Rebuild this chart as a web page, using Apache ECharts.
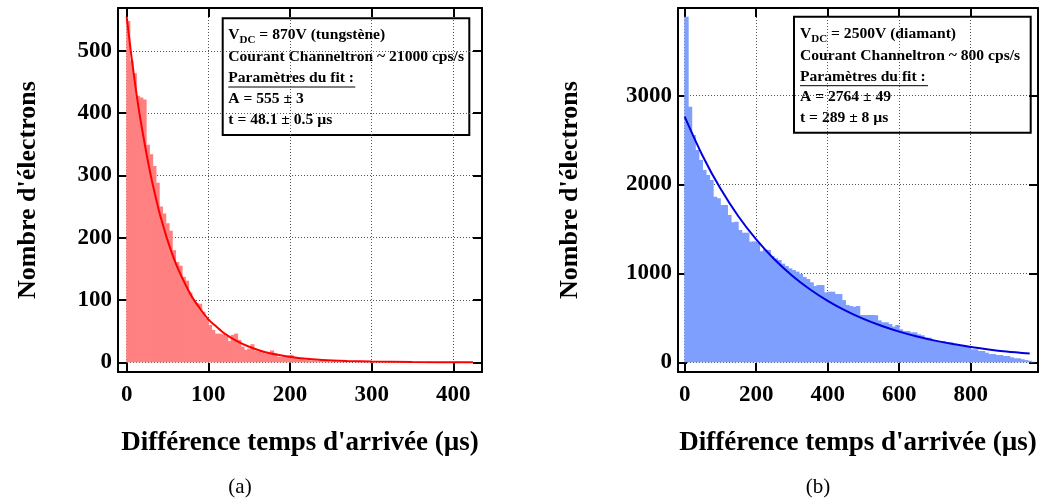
<!DOCTYPE html>
<html><head><meta charset="utf-8">
<script src="https://cdn.jsdelivr.net/npm/echarts@6/dist/echarts.min.js"></script>
<style>html,body{margin:0;padding:0;background:#fff}#c{width:1042px;height:499px}</style>
</head><body><div id="c"></div>
<script>
// ---------- data ----------
const binWidthA = 4;   // µs
const countsA = [
  548,484,464,428,425,422,349,334,315,288,
  250,239,223,211,180,161,155,137,131,112,
  100,95,94,81,70,60,52,46,46,45,
  42,34,44,46,36,25,20,22,29,19,
  17,15,14,15,19,14,9,9,8,11,
  12,6,5,5,4,4,3,3,2,3,
  2,2,1,2,1,1,2,1,1,0,
  1,1,0,1,0,1,0,0,1,0,
  0,1,0,0,0,1,0,0,0,1,
  0,0,1,0,0,0,0,0,0,0,
  0,1,0,0,0,0
];
const binWidthB = 10;  // µs
const countsB = [
  3888,2875,2557,2388,2276,2163,2107,2050,1863,1845,
  1770,1770,1657,1575,1582,1488,1458,1458,1357,1360,
  1345,1250,1270,1263,1196,1170,1151,1110,1083,1057,
  1038,1020,993,960,937,900,858,869,869,787,
  794,794,768,768,700,645,633,625,633,532,
  532,532,532,530,472,450,450,431,401,420,
  371,352,352,337,337,315,304,277,277,240,
  240,240,240,225,225,195,195,183,183,183,
  146,146,127,127,108,93,93,82,82,71,
  71,56,45,45,34,25,18,7
];
const fitA = [[0,555],[5,500],[10,450],[15,405],[20,366],[25,330],[30,297],[35,268],[40,241],[45,218],[50,196],[60,159],[70,130],[80,105],[90,86],[100,69],[110,57],[120,46],[135,34],[150,25],[170,16],[190,11],[210,7],[240,3.8],[270,2.1],[300,1.1],[350,0.4],[424,0.1]];
const fitB = [[0,2764],[50,2324],[100,1954],[150,1643],[200,1382],[250,1162],[300,977],[350,822],[400,691],[450,581],[500,488],[550,411],[600,345],[650,290],[700,244],[750,205],[800,173],[850,145],[900,122],[965,99]];
const xTicksA = [0,100,200,300,400];
const yTicksA = [0,100,200,300,400,500];
const xTicksB = [0,200,400,600,800];
const yTicksB = [0,1000,2000,3000];
const xTitle = "Différence temps d'arrivée (µs)";
const yTitle = "Nombre d'électrons";
const infoA = ["870V (tungstène)", "Courant Channeltron ~ 21000 cps/s", "Paramètres du fit :", "A = 555 ± 3", "t = 48.1 ± 0.5 µs"];
const infoB = ["2500V (diamant)", "Courant Channeltron ~ 800 cps/s", "Paramètres du fit :", "A = 2764 ± 49", "t = 289 ± 8 µs"];
const captions = ["(a)", "(b)"];

// ---------- chart ----------
const FF = "'Liberation Serif', 'DejaVu Serif', serif";
const chart = echarts.init(document.getElementById('c'), null, {renderer: 'canvas'});

function xAx(gi, min, max, ticks, pos, main) {
  return {
    type: 'value', gridIndex: gi, position: pos, min: min, max: max,
    name: main ? xTitle : '', nameLocation: 'middle', nameGap: 58,
    nameTextStyle: {fontFamily: FF, fontWeight: 'bold', fontSize: 27, color: '#000'},
    axisLine: {show: true, onZero: false, lineStyle: {color: '#000', width: 2}},
    axisTick: {show: true, inside: true, length: 9, customValues: ticks, lineStyle: {color: '#000', width: 2}},
    axisLabel: {show: main, customValues: ticks, formatter: v => String(v), fontFamily: FF, fontWeight: 'bold', fontSize: 23, color: '#000', margin: 12},
    splitLine: {show: main, lineStyle: {color: '#555', width: 1, type: [1, 2]}}
  };
}
function yAx(gi, min, max, ticks, pos, main, gap) {
  return {
    type: 'value', gridIndex: gi, position: pos, min: min, max: max,
    name: main ? yTitle : '', nameLocation: 'middle', nameGap: gap,
    nameTextStyle: {fontFamily: FF, fontWeight: 'bold', fontSize: 26, color: '#000'},
    axisLine: {show: true, onZero: false, lineStyle: {color: '#000', width: 2}},
    axisTick: {show: true, inside: true, length: 9, customValues: ticks, lineStyle: {color: '#000', width: 2}},
    axisLabel: {show: main, customValues: ticks, formatter: v => String(v), fontFamily: FF, fontWeight: 'bold', fontSize: 23, color: '#000', margin: 6},
    splitLine: {show: main, lineStyle: {color: '#555', width: 1, type: [1, 2]}}
  };
}
function barsRender(bw, color) {
  return function (params, api) {
    const x0 = api.value(0), v = api.value(1);
    const p0 = api.coord([x0, 0]);
    const p1 = api.coord([x0 + bw, v]);
    const cs = params.coordSys;
    const top = Math.max(p1[1], cs.y);
    return {type: 'rect', shape: {x: p0[0] - 0.4, y: top, width: p1[0] - p0[0] + 0.8, height: p0[1] - top},
            style: {fill: color, stroke: null}};
  };
}
function infoBox(x, y, w, h, lines, tx, ys, ulLen) {
  const st = {fontFamily: FF, fontWeight: 'bold', fontSize: 15.6, fill: '#000'};
  const ch = [{type: 'rect', shape: {x: x, y: y, width: w, height: h}, style: {fill: '#fff', stroke: '#000', lineWidth: 2}}];
  ch.push({type: 'text', x: tx, y: ys[0], style: {
    text: '{m|V}{s|DC}{m| = ' + lines[0] + '}', verticalAlign: 'middle',
    rich: {m: Object.assign({}, st, {lineHeight: 22, verticalAlign: 'middle'}),
           s: Object.assign({}, st, {fontSize: 11, lineHeight: 11, verticalAlign: 'bottom'})}
  }});
  for (let i = 1; i < 5; i++) {
    ch.push({type: 'text', x: tx, y: ys[i], style: Object.assign({}, st, {text: lines[i], verticalAlign: 'middle'})});
  }
  ch.push({type: 'line', shape: {x1: tx, y1: ys[2] + 9, x2: tx + ulLen, y2: ys[2] + 9}, style: {stroke: '#000', lineWidth: 1}});
  return {type: 'group', z: 100, children: ch};
}

const option = {
  animation: false,
  backgroundColor: '#fff',
  grid: [
    {left: 118, top: 8, width: 364, height: 364},
    {left: 678, top: 8, width: 360, height: 364}
  ],
  xAxis: [
    xAx(0, -10.6, 435.1, xTicksA, 'bottom', true),
    xAx(0, -10.6, 435.1, xTicksA, 'top', false),
    xAx(1, -18.7, 988.3, xTicksB, 'bottom', true),
    xAx(1, -18.7, 988.3, xTicksB, 'top', false)
  ],
  yAxis: [
    yAx(0, -15.6, 568.7, yTicksA, 'left', true, 77),
    yAx(0, -15.6, 568.7, yTicksA, 'right', false, 0),
    yAx(1, -109.1, 3985.4, yTicksB, 'left', true, 95),
    yAx(1, -109.1, 3985.4, yTicksB, 'right', false, 0)
  ],
  series: [
    {type: 'custom', xAxisIndex: 0, yAxisIndex: 0, renderItem: barsRender(binWidthA, '#ff8080'),
     data: countsA.map((c, i) => [i * binWidthA, c]), z: 2},
    {type: 'line', xAxisIndex: 0, yAxisIndex: 0, data: fitA, smooth: 0.3, showSymbol: false,
     lineStyle: {color: '#ff0000', width: 2}, z: 3},
    {type: 'custom', xAxisIndex: 2, yAxisIndex: 2, renderItem: barsRender(binWidthB, '#7f9fff'),
     data: countsB.map((c, i) => [i * binWidthB, c]), z: 2},
    {type: 'line', xAxisIndex: 2, yAxisIndex: 2, data: fitB, smooth: 0.3, showSymbol: false,
     lineStyle: {color: '#0000dd', width: 2}, z: 3}
  ],
  graphic: [
    infoBox(222.7, 18.3, 246.6, 116.7, infoA, 228.3, [35, 56.7, 78, 99, 120], 127),
    infoBox(794, 16.7, 236.7, 116, infoB, 800, [34, 56, 76.7, 97.3, 118.3], 128),
    {type: 'text', x: 240, y: 487, style: {text: captions[0], fontFamily: FF, fontSize: 21, fill: '#000', align: 'center', verticalAlign: 'middle'}},
    {type: 'text', x: 818, y: 487, style: {text: captions[1], fontFamily: FF, fontSize: 21, fill: '#000', align: 'center', verticalAlign: 'middle'}}
  ]
};
chart.setOption(option);
</script>
</body></html>
